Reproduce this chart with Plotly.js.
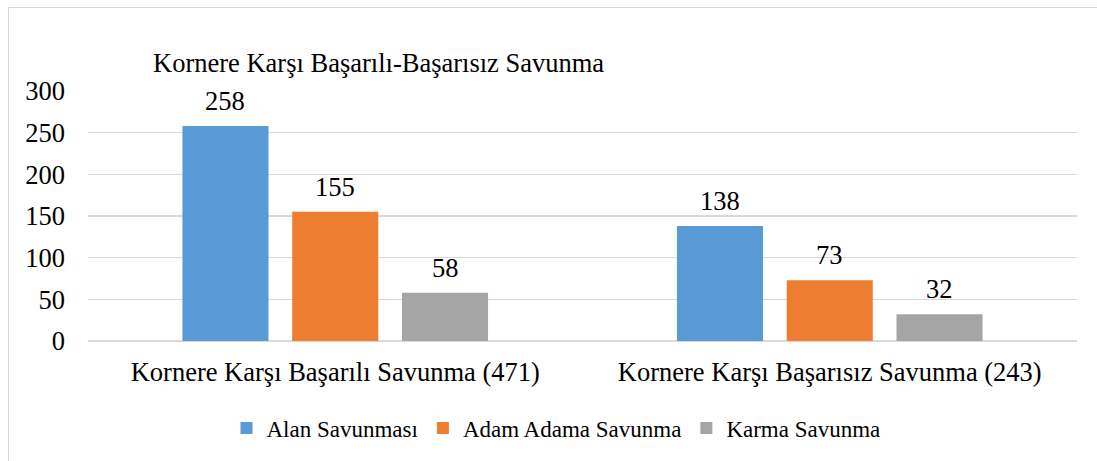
<!DOCTYPE html>
<html>
<head>
<meta charset="utf-8">
<script src="https://cdn.plot.ly/plotly-3.0.1.min.js"></script>
<style>
  html, body { margin: 0; padding: 0; background: #fff; }
  #wrap { position: relative; width: 1097px; height: 461px; overflow: hidden; }
  #chart { width: 1097px; height: 461px; }
  #frame { position: absolute; left: 8px; top: 7px; width: 1200px; height: 600px;
           border-left: 1px solid #d9d9d9; border-top: 1px solid #d9d9d9; pointer-events: none; }
</style>
</head>
<body>
<div id="wrap">
  <div id="chart"></div>
  <div id="frame"></div>
</div>
<script>
const categories = ["Kornere Karşı Başarılı Savunma (471)", "Kornere Karşı Başarısız Savunma (243)"];
const seriesNames = ["Alan Savunması", "Adam Adama Savunma", "Karma Savunma"];
const alanSavunmasi = [258, 138];
const adamAdamaSavunma = [155, 73];
const karmaSavunma = [58, 32];
const yTickValues = [0, 50, 100, 150, 200, 250, 300];
const chartTitle = "Kornere Karşı Başarılı-Başarısız Savunma";

const seriesValues = [alanSavunmasi, adamAdamaSavunma, karmaSavunma];
const colors = ["#5b9bd5", "#ed7d31", "#a5a5a5"];
const barWidth = 0.174;
const centers = [-0.222, 0, 0.222];
const FONT = "Liberation Serif";
const FS = 26.5;

const traces = seriesValues.map((vals, i) => ({
  type: "bar",
  name: seriesNames[i],
  x: categories,
  y: vals,
  width: barWidth,
  offset: centers[i] - barWidth / 2,
  marker: { color: colors[i] }
}));

const annotations = [];
seriesValues.forEach((vals, i) => {
  vals.forEach((v, j) => {
    annotations.push({
      xref: "x", yref: "y", x: j + centers[i], y: v,
      text: String(v), showarrow: false, yanchor: "middle", yshift: 25,
      font: { family: FONT, size: FS, color: "#000" }
    });
  });
});

const layout = {
  width: 1097, height: 461,
  margin: { l: 88, r: 20, t: 91, b: 120 },
  paper_bgcolor: "#fff", plot_bgcolor: "#fff",
  barmode: "overlay",
  font: { family: FONT, size: FS, color: "#000" },
  title: {
    text: chartTitle,
    xref: "container", yref: "container",
    x: 153 / 1097, xanchor: "left",
    y: 1 - 63 / 461, yanchor: "middle",
    font: { family: FONT, size: FS, color: "#000" }
  },
  xaxis: {
    type: "category",
    showgrid: false, zeroline: false,
    showline: false, ticks: "",
    tickfont: { family: FONT, size: FS, color: "#000" },
    ticklabelstandoff: 12
  },
  yaxis: {
    range: [0, 300],
    tickvals: yTickValues,
    showgrid: true, gridcolor: "#d9d9d9", gridwidth: 1.5,
    zeroline: true, zerolinecolor: "#d9d9d9", zerolinewidth: 1.5,
    showline: false, ticks: "",
    tickfont: { family: FONT, size: FS, color: "#000" },
    ticklabelstandoff: 22
  },
  showlegend: true,
  legend: {
    orientation: "h",
    xref: "container", yref: "container",
    x: 556 / 1097, xanchor: "center",
    y: 1 - 428 / 461, yanchor: "middle",
    font: { family: FONT, size: 23, color: "#000" },
    itemwidth: 30,
    traceorder: "normal"
  },
  annotations: annotations
};

Plotly.newPlot("chart", traces, layout, { displayModeBar: false, staticPlot: true });
</script>
</body>
</html>
